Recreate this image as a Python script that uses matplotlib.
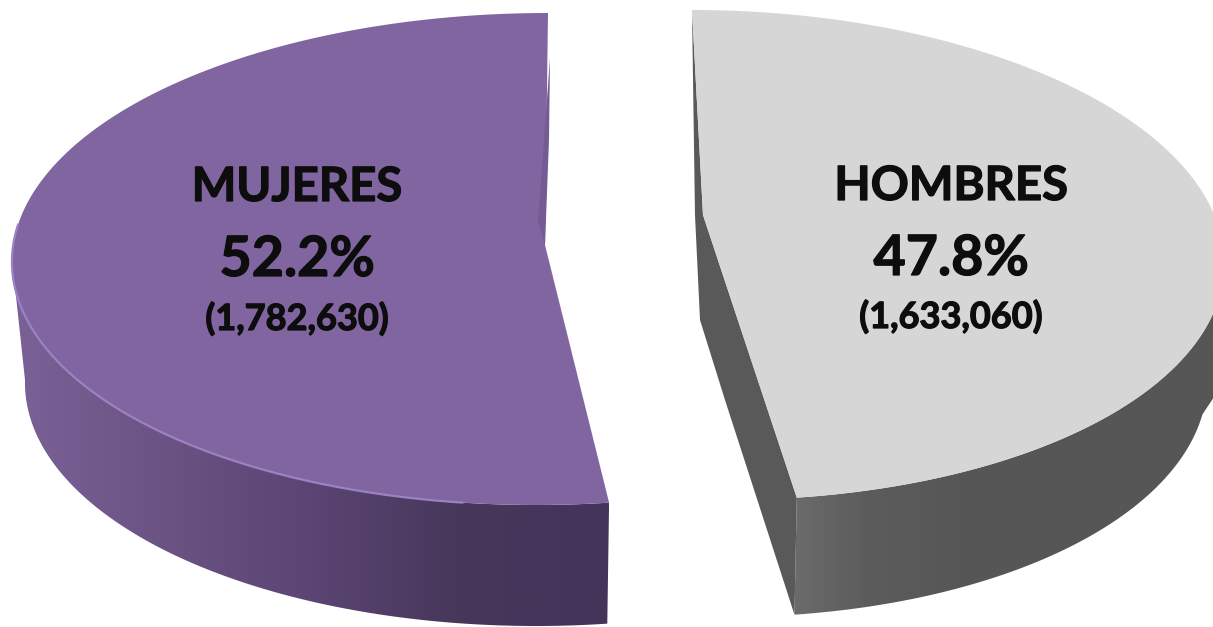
#3d style pie, two slices pulled apart. drawn by hand since matplotlib pie is flat.
import numpy as np
import matplotlib
matplotlib.use('Agg')
import matplotlib.pyplot as plt
import matplotlib.patheffects as pe
from matplotlib.colors import LinearSegmentedColormap
from matplotlib.patches import Polygon

categories = ['MUJERES', 'HOMBRES']
shares = [52.2, 47.8]
counts = [1782630, 1633060]

plt.rcParams['font.family'] = ['Lato', 'DejaVu Sans']

fig = plt.figure(figsize=(12.13, 6.27), dpi=100)
ax = fig.add_axes([0, 0, 1, 1])


def rim(cx, cy, a, b, skew, t0, t1, n=200):
    t = np.radians(np.linspace(t0, t1, n))
    x = cx + a*np.cos(t) - skew*np.sin(t)
    y = cy - b*np.sin(t)
    return np.column_stack([x, y])


def gradient_wall(pts, colors, x0, x1):
    grad = LinearSegmentedColormap.from_list('wall', colors)
    im = ax.imshow(np.linspace(0, 1, 256).reshape(1, -1), cmap=grad, aspect='auto',
                   extent=[x0, x1, 627, 0], zorder=1, interpolation='bilinear')
    im.set_clip_path(Polygon(pts, closed=True, transform=ax.transData))


#----- left slice, starts at the top and goes counter clockwise
sweep = shares[0]/100*360
end = 90 + sweep
top = rim(542, 259, 530, 246, -6, 90, end)
wall_up = rim(542, 259, 530, 246, -6, 180, end)
wall_low = rim(542, 380, 517, 246, -6, 180, end)
gradient_wall(np.vstack([wall_up, wall_low[::-1]]), ['#7a6298', '#6b5384', '#5b4574', '#47375a', '#45345a'], 12, 609)
apex = [545, 245]
ax.add_patch(Polygon(np.vstack([top, [apex]]), closed=True, fc='#8165a1', ec='none', zorder=2))
ax.add_patch(Polygon([[550, 58], [538, 222], [545, 245], [549, 140]], closed=True, fc='#735b93', ec='none', zorder=3))
ax.plot(*rim(542, 259, 530, 246, -6, 172, 262).T, color='#9b82c2', lw=1.6, zorder=3)

#----- right slice, same thing going clockwise
sweep = shares[1]/100*360
end = 90 - sweep
top = rim(709, 255, 515, 245, 17, 90, end)
wall_up = rim(709, 255, 515, 245, 17, 2, end)
wall_low = rim(709, 372, 498, 245, 17, -10, end)
# outer edge runs off the right side of the picture
gradient_wall(np.vstack([wall_up, wall_low[::-1], [[1214, 397], [1226, 313]]]),
              ['#6e6e6e', '#5c5c5c', '#575757', '#565656', '#565656', '#565656'], 780, 1213)
apex = [703, 215]
# flat cut side of the slice
ax.add_patch(Polygon([top[0], apex, top[-1], wall_low[-1], [725, 400], [700, 320], [695, 215]], closed=True,
                     fc='#595959', ec='none', zorder=1.5))
ax.add_patch(Polygon(np.vstack([top, [apex]]), closed=True, fc='#d6d6d6', ec='none', zorder=2))

#----- labels
label_x = [297, 951]
label_y = [[201, 276, 330], [200, 275, 328]]
for i in range(2):
    texts = [categories[i], '%.1f%%' % shares[i], '({:,})'.format(counts[i])]
    sizes = [34, 40, 26]
    for j in range(3):
        ax.text(label_x[i], label_y[i][j], texts[j], fontsize=sizes[j], fontweight='bold', color='#0d0d0d',
                ha='center', va='baseline', zorder=5,
                path_effects=[pe.withStroke(linewidth=0.9, foreground='#0d0d0d')])

ax.set_xlim(0, 1213)
ax.set_ylim(627, 0)
ax.axis('off')
fig.savefig('out.png', dpi=100)
